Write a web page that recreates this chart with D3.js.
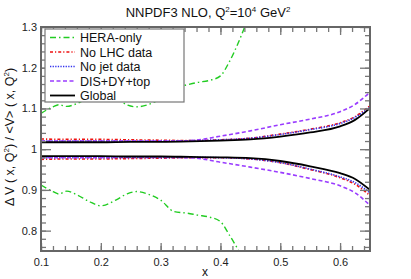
<!DOCTYPE html>
<html>
<head>
<meta charset="utf-8">
<script src="https://cdn.jsdelivr.net/npm/d3@7"></script>
<style>
  body { margin: 0; background: #fff; }
  svg { font-family: 'Liberation Sans', Arial, sans-serif; }
  .axis text { font-size: 11px; fill: #222; }
  .axis line { stroke: #777; stroke-width: 1.3; }
</style>
</head>
<body>
<svg id="chart" width="411" height="279"></svg>
<script>
// x grid shared by the fitted sets
var xs = [0.10, 0.15, 0.20, 0.25, 0.30, 0.35, 0.40, 0.45, 0.50, 0.55, 0.60, 0.625, 0.65];

var globalUp = [1.017, 1.017, 1.017, 1.018, 1.018, 1.019, 1.021, 1.024, 1.031, 1.041, 1.056, 1.072, 1.101];
var globalLo = [0.983, 0.983, 0.983, 0.982, 0.982, 0.981, 0.980, 0.978, 0.971, 0.958, 0.941, 0.927, 0.900];

var noJetUp = [1.020, 1.020, 1.020, 1.020, 1.020, 1.021, 1.023, 1.027, 1.036, 1.048, 1.063, 1.078, 1.103];
var noJetLo = [0.979, 0.979, 0.979, 0.980, 0.980, 0.980, 0.979, 0.976, 0.967, 0.951, 0.932, 0.918, 0.893];

var noLhcUp = [1.025, 1.024, 1.024, 1.023, 1.022, 1.021, 1.023, 1.027, 1.037, 1.049, 1.065, 1.080, 1.107];
var noLhcLo = [0.975, 0.976, 0.976, 0.977, 0.978, 0.979, 0.979, 0.976, 0.967, 0.950, 0.930, 0.914, 0.886];

var disUp = [1.020, 1.020, 1.020, 1.020, 1.020, 1.021, 1.032, 1.045, 1.060, 1.074, 1.092, 1.110, 1.140];
var disLo = [0.980, 0.980, 0.980, 0.980, 0.980, 0.979, 0.968, 0.956, 0.943, 0.928, 0.910, 0.893, 0.862];

// HERA-only has its own grid
var heraX  = [0.10, 0.12, 0.13, 0.143, 0.16, 0.18, 0.20, 0.225, 0.245, 0.26, 0.28, 0.30, 0.322, 0.344, 0.362, 0.382, 0.40, 0.415, 0.43, 0.44, 0.45];
var heraUp = [1.088, 1.104, 1.109, 1.105, 1.112, 1.127, 1.138, 1.126, 1.108, 1.104, 1.110, 1.124, 1.150, 1.158, 1.164, 1.169, 1.180, 1.215, 1.262, 1.298, 1.335];
var heraLo = [0.912, 0.896, 0.890, 0.897, 0.888, 0.872, 0.861, 0.875, 0.891, 0.896, 0.889, 0.875, 0.847, 0.843, 0.838, 0.833, 0.822, 0.789, 0.752, 0.725, 0.700];

var xTicks = [0.1, 0.2, 0.3, 0.4, 0.5, 0.6];
var yTicks = [0.8, 0.9, 1.0, 1.1, 1.2, 1.3];

var svg = d3.select('#chart'),
    margin = { top: 27, right: 41, bottom: 28, left: 41 },
    width = +svg.attr('width') - margin.left - margin.right,
    height = +svg.attr('height') - margin.top - margin.bottom,
    g = svg.append('g').attr('transform', 'translate(' + margin.left + ',' + margin.top + ')');

var x = d3.scaleLinear().domain([0.1, 0.65]).range([0, width]);
var y = d3.scaleLinear().domain([0.75, 1.3]).range([height, 0]);

var series = [
  { name: 'HERA-only', xs: heraX, up: heraUp, lo: heraLo, color: '#22cc22', dash: '6,3,1.5,3', w: 1.4 },
  { name: 'No LHC data', xs: xs, up: noLhcUp, lo: noLhcLo, color: '#ee1111', dash: '3,2,1.2,2', w: 1.6 },
  { name: 'No jet data', xs: xs, up: noJetUp, lo: noJetLo, color: '#3333ee', dash: '1.3,1.3', w: 1.6 },
  { name: 'DIS+DY+top', xs: xs, up: disUp, lo: disLo, color: '#9a3cff', dash: '4,2.5', w: 1.6 },
  { name: 'Global', xs: xs, up: globalUp, lo: globalLo, color: '#000', dash: null, w: 1.8 }
];

svg.append('defs').append('clipPath').attr('id', 'plot')
  .append('rect').attr('width', width).attr('height', height);

var line = d3.line()
    .x(function(d) { return x(d[0]); })
    .y(function(d) { return y(d[1]); })
    .curve(d3.curveMonotoneX);

var lines = g.append('g').attr('clip-path', 'url(#plot)');

// upper and lower edge of each band, global drawn last
series.forEach(function(s) {
  [s.up, s.lo].forEach(function(vals) {
    lines.append('path')
      .datum(s.xs.map(function(v, i) { return [v, vals[i]]; }))
      .attr('fill', 'none')
      .attr('stroke', s.color)
      .attr('stroke-width', s.w)
      .attr('stroke-dasharray', s.dash)
      .attr('d', line);
  });
});

// ticks on all four sides, pointing in
function ticks(axisFn, vals, size, fmt) {
  return axisFn.tickValues(vals).tickSizeInner(size).tickSizeOuter(0).tickFormat(fmt);
}
var xMinor = d3.range(0.1, 0.6501, 0.02).map(function(v) { return +v.toFixed(2); });
var yMinor = d3.range(0.76, 1.3001, 0.02).map(function(v) { return +v.toFixed(2); });
var none = function() { return ''; };

var gx = g.append('g').attr('class', 'axis').attr('transform', 'translate(0,' + height + ')');
gx.append('g').call(ticks(d3.axisBottom(x), xMinor, -5, none));
gx.append('g').call(ticks(d3.axisBottom(x), xTicks, -8, d3.format('.1f')))
  .selectAll('text').attr('dy', '1.05em').attr('y', 3);

var gt = g.append('g').attr('class', 'axis');
gt.append('g').call(ticks(d3.axisTop(x), xMinor, -5, none));
gt.append('g').call(ticks(d3.axisTop(x), xTicks, -8, none));

var gy = g.append('g').attr('class', 'axis');
gy.append('g').call(ticks(d3.axisLeft(y), yMinor, -5, none));
gy.append('g').call(ticks(d3.axisLeft(y), yTicks, -10, function(d) { return d === 1 ? '1' : d3.format('.1f')(d); }))
  .selectAll('text').attr('x', -4);

var gr = g.append('g').attr('class', 'axis').attr('transform', 'translate(' + width + ',0)');
gr.append('g').call(ticks(d3.axisRight(y), yMinor, -5, none));
gr.append('g').call(ticks(d3.axisRight(y), yTicks, -10, none));

g.selectAll('.axis .domain').remove();

g.append('rect')
  .attr('width', width)
  .attr('height', height)
  .attr('fill', 'none')
  .attr('stroke', '#666')
  .attr('stroke-width', 2);

// legend
var legend = g.append('g').attr('transform', 'translate(4,2)');
legend.append('rect')
  .attr('width', 139)
  .attr('height', 73)
  .attr('fill', '#fff')
  .attr('stroke', '#777')
  .attr('stroke-width', 1.2);

var item = legend.selectAll('g.item')
  .data(series)
  .enter().append('g')
    .attr('class', 'item')
    .attr('transform', function(d, i) { return 'translate(0,' + (8.5 + i * 14.5) + ')'; });

item.append('line')
  .attr('x1', 5).attr('x2', 30)
  .attr('stroke', function(d) { return d.color; })
  .attr('stroke-width', function(d) { return d.w; })
  .attr('stroke-dasharray', function(d) { return d.dash; });

item.append('text')
  .attr('x', 35)
  .attr('dy', '0.36em')
  .attr('font-size', '12.5px')
  .attr('fill', '#111')
  .text(function(d) { return d.name; });

// title
var title = svg.append('text')
  .attr('x', 208)
  .attr('y', 17)
  .attr('text-anchor', 'middle')
  .attr('font-size', '13px')
  .attr('fill', '#111');
title.append('tspan').text('NNPDF3 NLO, Q');
title.append('tspan').attr('font-size', '8px').attr('dy', -5).text('2');
title.append('tspan').attr('dy', 5).text('=10');
title.append('tspan').attr('font-size', '8px').attr('dy', -5).text('4');
title.append('tspan').attr('dy', 5).text(' GeV');
title.append('tspan').attr('font-size', '8px').attr('dy', -5).text('2');

// axis titles
svg.append('text')
  .attr('x', 205)
  .attr('y', 276)
  .attr('text-anchor', 'middle')
  .attr('font-size', '12px')
  .attr('fill', '#111')
  .text('x');

var ylab = svg.append('text')
  .attr('transform', 'translate(14,137) rotate(-90)')
  .attr('text-anchor', 'middle')
  .attr('font-size', '12.5px')
  .attr('fill', '#111');
ylab.append('tspan').text('\u0394 V ( x, Q');
ylab.append('tspan').attr('font-size', '8px').attr('dy', -5).text('2');
ylab.append('tspan').attr('dy', 5).text(') / <V> ( x, Q');
ylab.append('tspan').attr('font-size', '8px').attr('dy', -5).text('2');
ylab.append('tspan').attr('dy', 5).text(')');
</script>
</body>
</html>
